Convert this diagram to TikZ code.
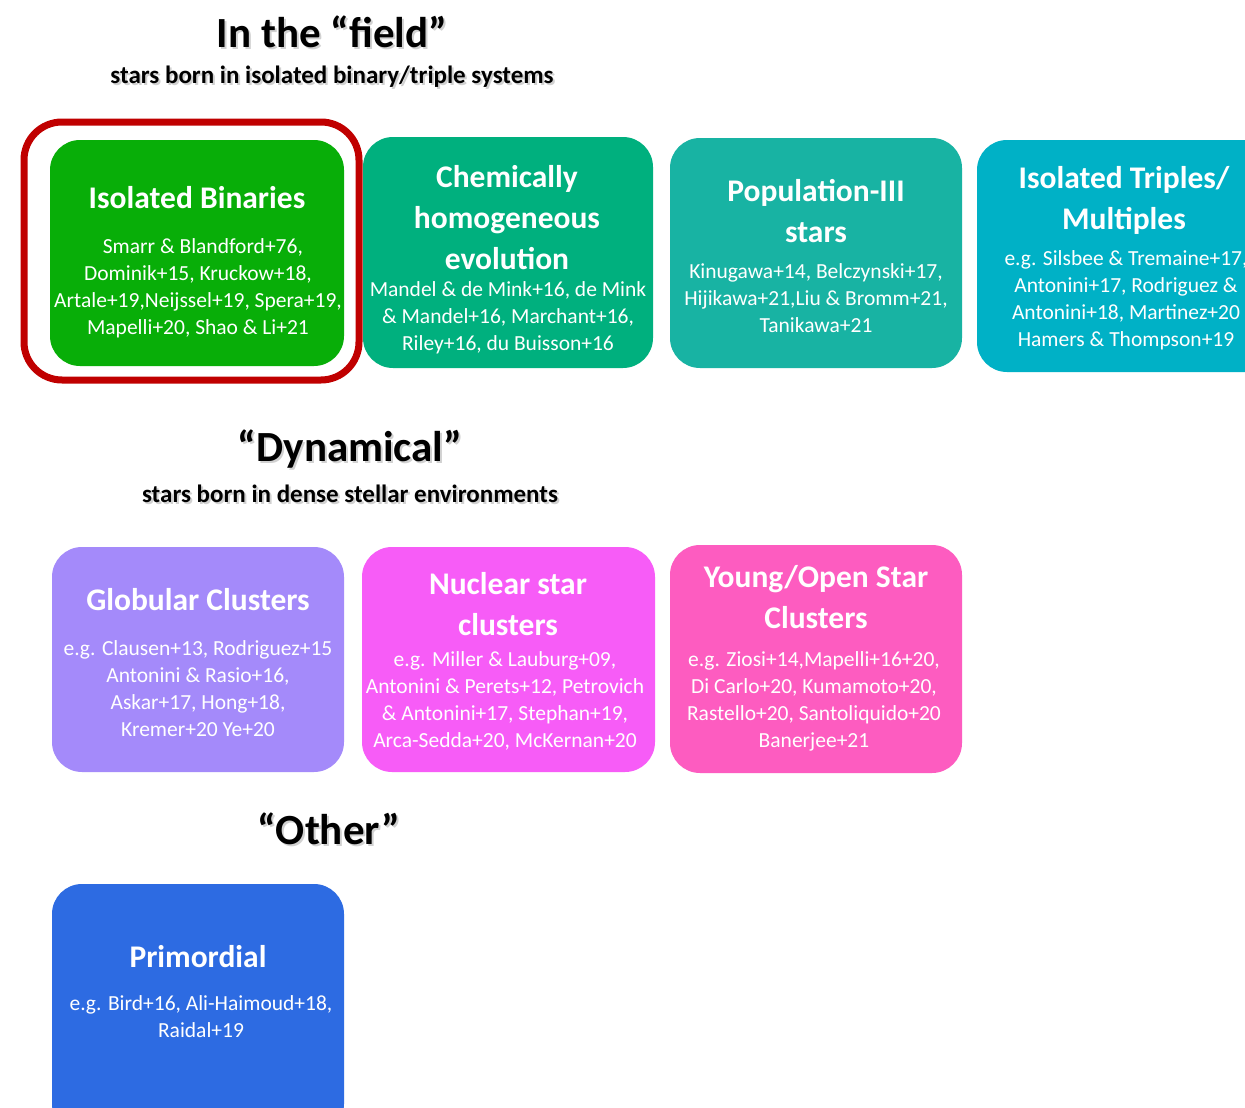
\documentclass[tikz,border=0pt]{standalone}
\usepackage{fontspec}
\setmainfont{Carlito}
\definecolor{cIB}{HTML}{08AE08}
\definecolor{cCH}{HTML}{00B07E}
\definecolor{cP3}{HTML}{18B3A3}
\definecolor{cIT}{HTML}{00B1C6}
\definecolor{cGC}{HTML}{A48AFA}
\definecolor{cNS}{HTML}{F75CF7}
\definecolor{cYO}{HTML}{FD5CC0}
\definecolor{cPR}{HTML}{2D6BE2}
\definecolor{cRed}{HTML}{C00000}
\tikzset{
  box/.style={draw=none, rounded corners=30pt, inner sep=0pt},
  ttl/.style={text=white, font=\fontsize{31.5}{41}\selectfont\bfseries, align=center, inner sep=0pt},
  refs/.style={text=white, font=\fontsize{21.5}{27}\selectfont, align=center, inner sep=0pt},
  head/.style={font=\fontsize{43}{48}\selectfont\bfseries, inner sep=0pt},
  sub/.style={font=\fontsize{25}{28}\selectfont\bfseries, inner sep=0pt},
  shadow/.style={text=black!40, opacity=0.45}
}
\begin{document}
\begin{tikzpicture}[x=1pt,y=-1pt]
\clip (0,0) rectangle (1245,1108);
\fill[white] (0,0) rectangle (1245,1108);

% headings
\node[head,shadow] at (334,34) {In the “field”};
\node[head] (h1) at (332,32) {In the “field”};
\node[sub,shadow] at (334,79) {stars born in isolated binary/triple systems};
\node[sub] (s1) at (332,77) {stars born in isolated binary/triple systems};
\node[head,shadow] at (352,451) {“Dynamical”};
\node[head] (h2) at (350,449) {“Dynamical”};
\node[sub,shadow] at (352,496) {stars born in dense stellar environments};
\node[sub] (s2) at (350,494) {stars born in dense stellar environments};
\node[head,shadow] at (331,831) {“Other”};
\node[head] (h3) at (329,829) {“Other”};

% red outline
\draw[cRed, line width=7pt, rounded corners=38pt] (24,122) rectangle (359,380);

% row 1
\node[box, fill=cIB, minimum width=294pt, minimum height=226pt] (ib) at (197,253) {};
\node[ttl] at (197,198) {Isolated Binaries};
\node[refs] at (198,288.5) {\ \ Smarr \& Blandford+76,\\Dominik+15, Kruckow+18,\\Artale+19,Neijssel+19, Spera+19,\\Mapelli+20, Shao \& Li+21};

\node[box, fill=cCH, minimum width=290pt, minimum height=231pt] (ch) at (508,252.5) {};
\node[ttl] at (507,218) {Chemically\\homogeneous\\evolution};
\node[refs] at (508,318) {Mandel \& de Mink+16, de Mink\\\& Mandel+16, Marchant+16,\\Riley+16, du Buisson+16};

\node[box, fill=cP3, minimum width=292pt, minimum height=230pt] (p3) at (816,253) {};
\node[ttl] at (816,211) {Population-III\\stars};
\node[refs] at (816,298) {Kinugawa+14, Belczynski+17,\\Hijikawa+21,Liu \& Bromm+21,\\Tanikawa+21};

\node[box, fill=cIT, minimum width=300pt, minimum height=232pt] (it) at (1127,256) {};
\node[ttl] at (1124,200.5) {Isolated Triples/\\Multiples};
\node[refs] at (1126,300.5) {e.g. Silsbee \& Tremaine+17,\\Antonini+17, Rodriguez \&\\Antonini+18, Martinez+20\\Hamers \& Thompson+19};

% row 2
\node[box, fill=cGC, minimum width=292pt, minimum height=225pt] (gc) at (198,659.5) {};
\node[ttl] at (198,600) {Globular Clusters};
\node[refs] at (198,688.5) {e.g. Clausen+13, Rodriguez+15\\Antonini \& Rasio+16,\\Askar+17, Hong+18,\\Kremer+20 Ye+20};

\node[box, fill=cNS, minimum width=293pt, minimum height=225pt] (ns) at (508.5,659.5) {};
\node[ttl] at (508,604.5) {Nuclear star\\clusters};
\node[refs] at (505,701) {e.g. Miller \& Lauburg+09,\\Antonini \& Perets+12, Petrovich\\\& Antonini+17, Stephan+19,\\Arca-Sedda+20, McKernan+20};

\node[box, fill=cYO, minimum width=292pt, minimum height=228pt] (yo) at (816,659) {};
\node[ttl] at (816,597) {Young/Open Star\\Clusters};
\node[refs] at (814,701) {e.g. Ziosi+14,Mapelli+16+20,\\Di Carlo+20, Kumamoto+20,\\Rastello+20, Santoliquido+20\\Banerjee+21};

% row 3
\node[box, fill=cPR, minimum width=292pt, minimum height=250pt] (pr) at (198,1009) {};
\node[ttl] at (198,957) {Primordial};
\node[refs] at (201,1016.5) {e.g. Bird+16, Ali-Haimoud+18,\\Raidal+19};
\end{tikzpicture}
\end{document}
